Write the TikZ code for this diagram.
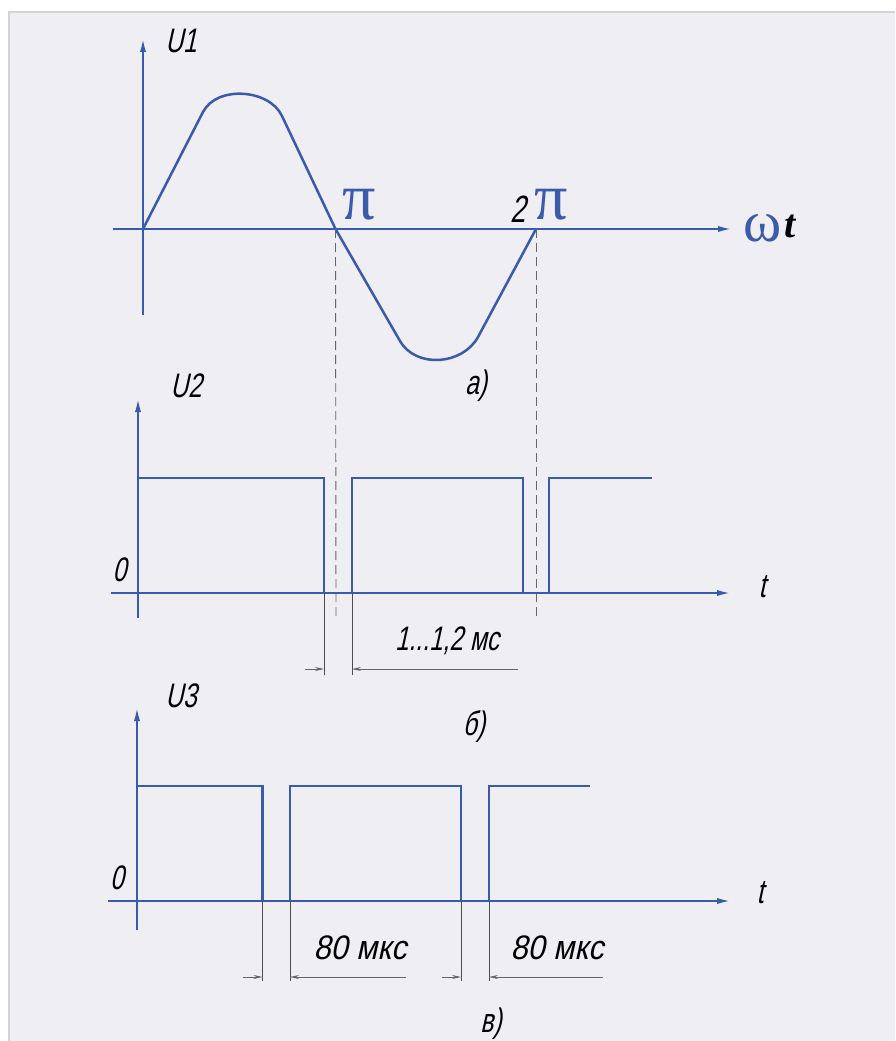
\documentclass[tikz,border=0pt]{standalone}
\usepackage{fontspec}
\setmainfont{Liberation Serif}
\newfontfamily\gost[FakeSlant=0.22,FakeStretch=0.72]{Liberation Sans}
\newfontfamily\gostwide[FakeSlant=0.22,FakeStretch=0.9]{Liberation Sans}
\usetikzlibrary{arrows.meta}
\definecolor{axisblue}{RGB}{58,90,170}
\definecolor{bgc}{RGB}{238,238,243}
\definecolor{edgec}{RGB}{210,210,215}
\begin{document}
\begin{tikzpicture}[x=1pt,y=-1pt,
  axis/.style={axisblue, line width=2.5pt, -{Latex[length=16pt,width=6pt]}},
  sig/.style={axisblue, line width=2.5pt, line join=miter},
  guide/.style={black!60, line width=0.9pt, dash pattern=on 9pt off 5pt},
  ext/.style={black!70, line width=0.8pt},
  dimarrow/.style={black!60, line width=0.8pt},
  lbl/.style={font=\gost\fontsize{34}{40}\selectfont, inner sep=0pt, text=black},
  widelbl/.style={font=\gostwide\fontsize{34}{40}\selectfont, inner sep=0pt, text=black},
  pilbl/.style={font=\fontsize{66}{70}\selectfont, inner sep=0pt, text=axisblue},
]
\useasboundingbox (0,0) rectangle (895,1041);
\fill[white] (0,0) rectangle (895,1041);
\fill[bgc] (9,12) rectangle (895,1041);
\draw[edgec, line width=2pt] (9,1041) -- (9,12) -- (895,12);

% ---------- a) sine ----------
\coordinate (a-ybot) at (143,315);
\coordinate (a-ytop) at (143,36);
\coordinate (a-xl) at (113,229);
\coordinate (a-xr) at (734,229);
\coordinate (O1) at (143,229);
\coordinate (P1) at (335.5,229);
\coordinate (P2) at (536,229);
\draw[axis] (a-ybot) -- (a-ytop);
\draw[axis] (a-xl) -- (a-xr);
\draw[sig, line join=round] (O1) -- (203,112) .. controls (216.7,85.3) and (269.3,88.8) .. (282,116)
   -- (P1) -- (400,341) .. controls (416,368.7) and (462.6,365.1) .. (478,337) -- (P2);
\coordinate (P1b) at (336,620);
\coordinate (P2b) at (536,620);
\draw[guide] (P1) -- (P1b);
\draw[guide] (P2) -- (P2b);

\node[lbl] (U1) at (181,41) {U1};
\node[pilbl] (pi1) at (359,205) {π};
\node[lbl, font=\gost\fontsize{38}{42}\selectfont] (two) at (518,209) {2};
\node[pilbl] (pi2) at (551,205) {π};
\node[inner sep=0pt, text=axisblue, font=\fontsize{58}{60}\selectfont] (omega) at (763,228) {ω};
\node[inner sep=0pt, text=black, font=\bfseries\itshape\fontsize{40}{44}\selectfont] (tt) at (790,226) {t};
\node[lbl] (la) at (476,386) {а)};

% ---------- b) U2 ----------
\coordinate (b-ybot) at (138,618);
\coordinate (b-ytop) at (138,396);
\coordinate (b-xl) at (111,593);
\coordinate (b-xr) at (733,593);
\draw[axis] (b-ybot) -- (b-ytop);
\draw[axis] (b-xl) -- (b-xr);
\draw[sig] (138,478) -- (324,478) -- (324,593);
\draw[sig] (352,593) -- (352,478) -- (523,478) -- (523,593);
\draw[sig] (549,593) -- (549,478) -- (652,478);
\coordinate (e1t) at (324,593); \coordinate (e1b) at (324,675);
\coordinate (e2t) at (352,593); \coordinate (e2b) at (352,675);
\draw[ext] (e1t) -- (e1b);
\draw[ext] (e2t) -- (e2b);
\coordinate (d1a) at (305,669); \coordinate (d1b) at (324,669);
\coordinate (d2a) at (352,669); \coordinate (d2b) at (518,669);
\draw[dimarrow, -{Stealth[length=9pt,width=4pt]}] (d1a) -- (d1b);
\draw[dimarrow, {Stealth[length=9pt,width=4pt]}-] (d2a) -- (d2b);

\node[lbl] (U2) at (186,386) {U2};
\node[lbl] (z2) at (119.5,570) {0};
\node[lbl] (t2) at (762,587) {t};
\node[lbl] (dimb) at (447,641) {1...1,2 мс};
\node[lbl] (lb) at (474,727) {б)};

% ---------- c) U3 ----------
\coordinate (c-ybot) at (137,930);
\coordinate (c-ytop) at (137,705);
\coordinate (c-xl) at (108,901);
\coordinate (c-xr) at (733,901);
\draw[axis] (c-ybot) -- (c-ytop);
\draw[axis] (c-xl) -- (c-xr);
\draw[sig] (137,786) -- (262.5,786) -- (262.5,901);
\draw[sig] (290,901) -- (290,786) -- (461,786) -- (461,901);
\draw[sig] (489,901) -- (489,786) -- (590,786);
\coordinate (f1t) at (262.5,901); \coordinate (f1b) at (262.5,981);
\coordinate (f2t) at (290,901);   \coordinate (f2b) at (290,981);
\coordinate (f3t) at (461,901);   \coordinate (f3b) at (461,981);
\coordinate (f4t) at (489,901);   \coordinate (f4b) at (489,981);
\draw[ext] (f1t) -- (f1b);
\draw[ext] (f2t) -- (f2b);
\draw[ext] (f3t) -- (f3b);
\draw[ext] (f4t) -- (f4b);
\coordinate (g1a) at (243,977); \coordinate (g1b) at (262.5,977);
\coordinate (g2a) at (290,977); \coordinate (g2b) at (406,977);
\coordinate (g3a) at (442,977); \coordinate (g3b) at (461,977);
\coordinate (g4a) at (489,977); \coordinate (g4b) at (603,977);
\draw[dimarrow, -{Stealth[length=9pt,width=4pt]}] (g1a) -- (g1b);
\draw[dimarrow, {Stealth[length=9pt,width=4pt]}-] (g2a) -- (g2b);
\draw[dimarrow, -{Stealth[length=9pt,width=4pt]}] (g3a) -- (g3b);
\draw[dimarrow, {Stealth[length=9pt,width=4pt]}-] (g4a) -- (g4b);

\node[lbl] (U3) at (181,696) {U3};
\node[lbl] (z3) at (117,878) {0};
\node[lbl] (t3) at (760,893) {t};
\node[widelbl] (dimc1) at (360,948) {80 мкс};
\node[widelbl] (dimc2) at (557,948) {80 мкс};
\node[lbl] (lc) at (491,1024) {в)};
\end{tikzpicture}
\end{document}
